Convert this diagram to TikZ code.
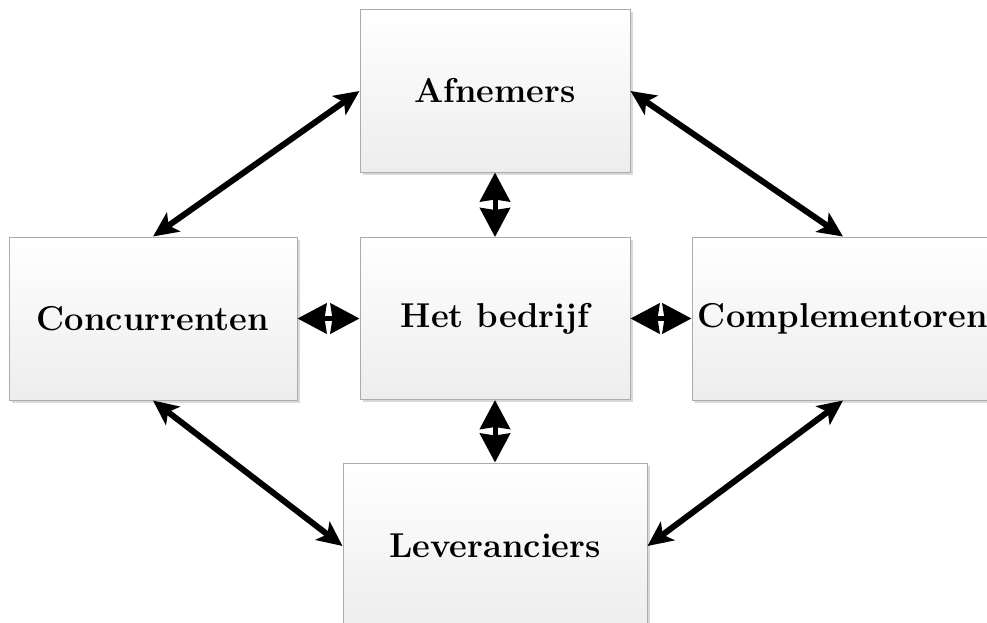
\documentclass[tikz,border=0pt]{standalone}
\usetikzlibrary{arrows.meta,shadows}
\begin{document}
\begin{tikzpicture}[x=1pt,y=-1pt,
  party/.style={rectangle, draw=black!33, line width=1pt,
    top color=white, bottom color=black!7,
    drop shadow={shadow xshift=2.5pt, shadow yshift=-2.5pt, opacity=0.15, fill=black},
    font=\fontsize{34.5}{38}\selectfont\bfseries, inner sep=0pt},
  link/.style={line width=6pt, {Stealth[length=25pt,width=23pt,inset=6pt]}-{Stealth[length=25pt,width=23pt,inset=6pt]}},
  shortlink/.style={line width=5pt, {Stealth[length=29pt,width=30pt,inset=2pt]}-{Stealth[length=29pt,width=30pt,inset=2pt]}}]
\useasboundingbox (0,0) rectangle (987,623);
\clip (0,0) rectangle (987,623);
% the five parties
\node[party, minimum width=270pt, minimum height=162pt] (afn)  at (495,91)    {Afnemers};
\node[party, minimum width=288pt, minimum height=163pt] (conc) at (153,318.5) {Concurrenten};
\node[party, minimum width=270pt, minimum height=162pt] (bed)  at (495,318.5) {Het bedrijf};
\node[party, minimum width=302pt, minimum height=163pt] (comp) at (843,318.5) {Complementoren};
\node[party, minimum width=304pt, minimum height=166pt] (lev)  at (495,546)   {Leveranciers};
% relations around the ring
\draw[link] (conc.north) -- (afn.west);
\draw[link] (afn.east) -- (comp.north);
\draw[link] (conc.south) -- (lev.west);
\draw[link] (comp.south) -- (lev.east);
% relations with the company in the middle
\draw[shortlink] (afn.south) -- (bed.north);
\draw[shortlink] (bed.south) -- (lev.north);
\draw[shortlink] (conc.east) -- (bed.west);
\draw[shortlink] (bed.east) -- (comp.west);
\end{tikzpicture}
\end{document}
